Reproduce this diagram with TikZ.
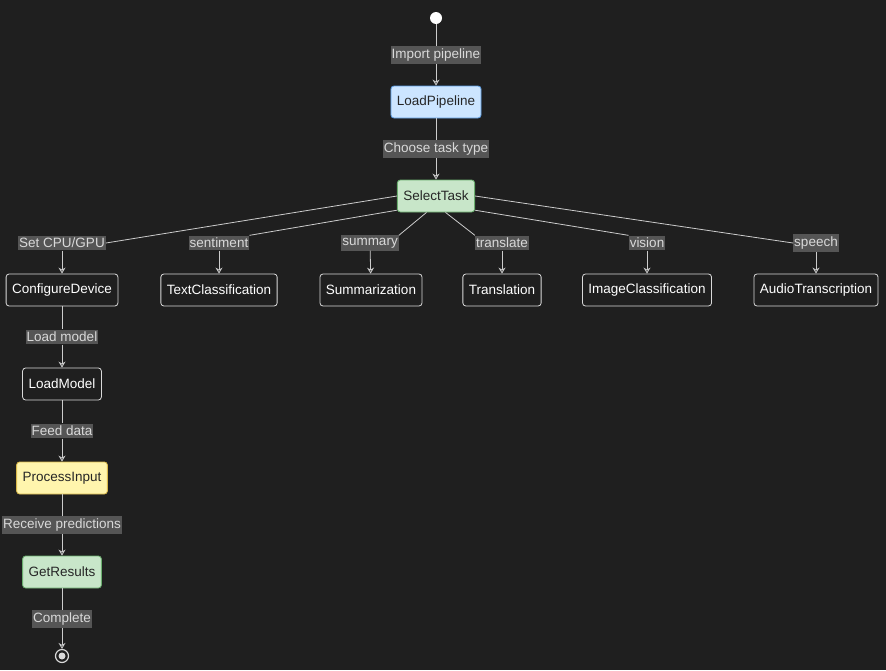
\documentclass[tikz,border=0pt]{standalone}
\usepackage{fontspec}
\setmainfont{Liberation Sans}
\usetikzlibrary{arrows.meta}
\definecolor{bg}{HTML}{1F1F1F}
\definecolor{lbl}{HTML}{555555}
\definecolor{blu}{HTML}{CCE5FF}
\definecolor{blub}{HTML}{5A9BE0}
\definecolor{grn}{HTML}{C8E6C9}
\definecolor{grnb}{HTML}{6AAE6E}
\definecolor{yel}{HTML}{FFF5AD}
\definecolor{yelb}{HTML}{D9B84A}
\begin{document}
\begin{tikzpicture}[x=1pt,y=-1pt,font=\fontsize{13.5}{16}\selectfont,
  st/.style={draw=white!85!black,fill=bg,text=white,rounded corners=3pt,minimum height=32pt,inner xsep=6pt,line width=0.8pt},
  sb/.style={st,fill=blu,draw=blub,text=black!85},
  sg/.style={st,fill=grn,draw=grnb,text=black!85},
  sy/.style={st,fill=yel,draw=yelb,text=black!85},
  lb/.style={fill=lbl,text=white!85!black,inner xsep=1pt,inner ysep=2.5pt},
  ln/.style={draw=white!80!black,line width=0.8pt},
  ar/.style={ln,-{Stealth[open,length=6pt,width=7pt]}}]
\fill[bg] (0,0) rectangle (886,670);
\node[circle,fill=white,minimum size=12pt,inner sep=0] (start) at (436,18) {};
\node[sb] (lp) at (436,102) {LoadPipeline};
\node[sg] (sel) at (436,196) {SelectTask};
\node[st] (cd) at (62,290) {ConfigureDevice};
\node[st] (tc) at (219,290) {TextClassification};
\node[st] (su) at (371,290) {Summarization};
\node[st] (tr) at (502,290) {Translation};
\node[st] (ic) at (647,290) {ImageClassification};
\node[st] (at) at (816,290) {AudioTranscription};
\node[st] (lm) at (62,384) {LoadModel};
\node[sy] (pi) at (62,478) {ProcessInput};
\node[sg] (gr) at (62,572) {GetResults};
\node[circle,draw=white!85!black,line width=1.2pt,minimum size=13pt,inner sep=0] (end) at (62,656) {};
\fill[white!85!black] (end.center) circle (3.5pt);
% labels
\node[lb] (l1) at (436,55) {Import pipeline};
\node[lb] (l2) at (436,149) {Choose task type};
\node[lb] (l3) at (62,243) {Set CPU/GPU};
\node[lb] (l4) at (219,243) {sentiment};
\node[lb] (l5) at (370,243) {summary};
\node[lb] (l6) at (502,243) {translate};
\node[lb] (l7) at (647,243) {vision};
\node[lb] (l8) at (816,243) {speech};
\node[lb] (l9) at (62,337) {Load model};
\node[lb] (l10) at (62,431) {Feed data};
\node[lb] (l11) at (62,525) {Receive predictions};
\node[lb] (l12) at (62,619) {Complete};
\path[ln] (start) -- (l1); \path[ar] (l1) -- (lp);
\path[ln] (lp) -- (l2); \path[ar] (l2) -- (sel);
\path[ln] (sel.west) -- (l3.east); \path[ar] (l3) -- (cd);
\path[ln] (sel.200) -- (l4.north east); \path[ar] (l4) -- (tc);
\path[ln] (sel.240) -- (l5.north east); \path[ar] (l5) -- (su);
\path[ln] (sel.300) -- (l6.north west); \path[ar] (l6) -- (tr);
\path[ln] (sel.340) -- (l7.north west); \path[ar] (l7) -- (ic);
\path[ln] (sel.east) -- (l8.west); \path[ar] (l8) -- (at);
\path[ln] (cd) -- (l9); \path[ar] (l9) -- (lm);
\path[ln] (lm) -- (l10); \path[ar] (l10) -- (pi);
\path[ln] (pi) -- (l11); \path[ar] (l11) -- (gr);
\path[ln] (gr) -- (l12); \path[ar] (l12) -- (end);
\end{tikzpicture}
\end{document}
